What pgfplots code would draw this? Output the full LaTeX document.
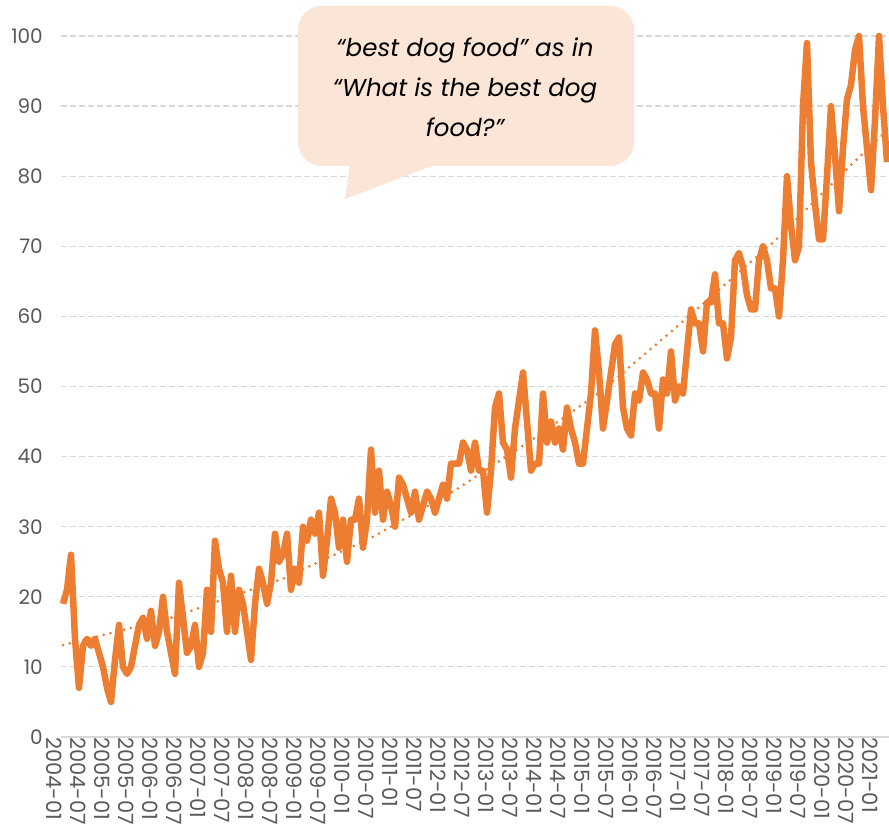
\documentclass[border=0pt]{standalone}
\usepackage{fontspec}
\setmainfont{Poppins}
\usepackage{pgfplots}
\pgfplotsset{compat=1.18}
\definecolor{accent}{HTML}{ED7D31}
\definecolor{callfill}{HTML}{FBE5D6}
\definecolor{ticktext}{HTML}{595959}
\definecolor{gridc}{HTML}{D9D9D9}

\begin{document}
\begin{tikzpicture}[x=1pt,y=1pt]
\useasboundingbox (-61,-90) rectangle (828,737);
\begin{axis}[
  at={(0,0)}, anchor=south west,
  width=828pt, height=701pt, scale only axis,
  xmin=-0.5, xmax=206.5, ymin=0, ymax=100,
  axis x line*=bottom, axis y line*=left,
  x axis line style={draw=gridc, line width=1.5pt, -},
  y axis line style={draw=none},
  major tick length=0pt,
  ytick={0,10,...,100},
  ymajorgrids,
  grid style={draw=gridc, line width=1.2pt, dash pattern=on 6pt off 3pt},
  xtick={0,6,...,204},
  xticklabels={2004-01,2004-07,2005-01,2005-07,2006-01,2006-07,2007-01,2007-07,
    2008-01,2008-07,2009-01,2009-07,2010-01,2010-07,2011-01,2011-07,2012-01,2012-07,
    2013-01,2013-07,2014-01,2014-07,2015-01,2015-07,2016-01,2016-07,2017-01,2017-07,
    2018-01,2018-07,2019-01,2019-07,2020-01,2020-07,2021-01},
  /pgf/number format/assume math mode=true,
  tick label style={text=ticktext},
  xticklabel style={font=\fontsize{21}{23}\selectfont, rotate=-90, anchor=west, inner sep=0pt, yshift=-9pt},
  yticklabel style={font=\fontsize{20}{22}\selectfont, anchor=east, inner sep=0pt, xshift=-18pt},
  clip=false,
]
% trend line
\addplot[accent, line width=3pt, line cap=round, dash pattern=on 0pt off 7pt]
  coordinates {(0,13.1) (27,17.0) (55,22.6) (77,28.4) (97.5,35.0) (117.5,42.5)
    (134,49.1) (152,57.8) (177.6,70.6) (197.5,81.9) (206,86.5)};
% monthly values
\addplot[accent, line width=6.5pt, line join=round] coordinates {
(0,19)(1,21)(2,26)(3,14)(4,7)(5,13)(6,14)(7,13)(8,14)(9,12)
(10,10)(11,7)(12,5)(13,11)(14,16)(15,10)(16,9)(17,10)(18,13)(19,16)
(20,17)(21,14)(22,18)(23,13)(24,15)(25,20)(26,15)(27,12)(28,9)(29,22)
(30,17)(31,12)(32,13)(33,16)(34,10)(35,12)(36,21)(37,15)(38,28)(39,24)
(40,22)(41,15)(42,23)(43,15)(44,21)(45,19)(46,15)(47,11)(48,19)(49,24)
(50,22)(51,19)(52,22)(53,29)(54,25)(55,26)(56,29)(57,21)(58,24)(59,22)
(60,30)(61,28)(62,31)(63,29)(64,32)(65,23)(66,28)(67,34)(68,32)(69,27)
(70,31)(71,25)(72,31)(73,31)(74,34)(75,27)(76,31)(77,41)(78,32)(79,38)
(80,31)(81,35)(82,33)(83,30)(84,37)(85,36)(86,34)(87,32)(88,35)(89,31)
(90,33)(91,35)(92,34)(93,32)(94,34)(95,36)(96,34)(97,39)(98,39)(99,39)
(100,42)(101,41)(102,38)(103,42)(104,38)(105,38)(106,32)(107,38)(108,47)(109,49)
(110,42)(111,41)(112,37)(113,44)(114,48)(115,52)(116,45)(117,38)(118,39)(119,39)
(120,49)(121,42)(122,45)(123,42)(124,44)(125,41)(126,47)(127,44)(128,42)(129,39)
(130,39)(131,44)(132,49)(133,58)(134,52)(135,44)(136,48)(137,52)(138,56)(139,57)
(140,47)(141,44)(142,43)(143,49)(144,48)(145,52)(146,51)(147,49)(148,49)(149,44)
(150,51)(151,49)(152,55)(153,48)(154,50)(155,49)(156,55)(157,61)(158,59)(159,59)
(160,55)(161,62)(162,62)(163,66)(164,59)(165,59)(166,54)(167,57)(168,68)(169,69)
(170,67)(171,63)(172,61)(173,61)(174,68)(175,70)(176,68)(177,64)(178,64)(179,60)
(180,68)(181,80)(182,73)(183,68)(184,70)(185,90)(186,99)(187,82)(188,76)(189,71)
(190,71)(191,80)(192,90)(193,83)(194,75)(195,84)(196,91)(197,93)(198,98)(199,100)
(200,90)(201,84)(202,78)(203,88)(204,100)(205,90)(206,82)
};
\end{axis}
% speech bubble
\fill[callfill, rounded corners=24pt] (237,571) rectangle (573,731);
\fill[callfill] (289,573) -- (284,538) -- (376,573) -- cycle;
\node[align=center, font=\itshape\fontsize{24.5}{40}\selectfont, text=black]
  at (404,650) {“best dog food” as in\\“What is the best dog\\food?”};
\end{tikzpicture}
\end{document}
